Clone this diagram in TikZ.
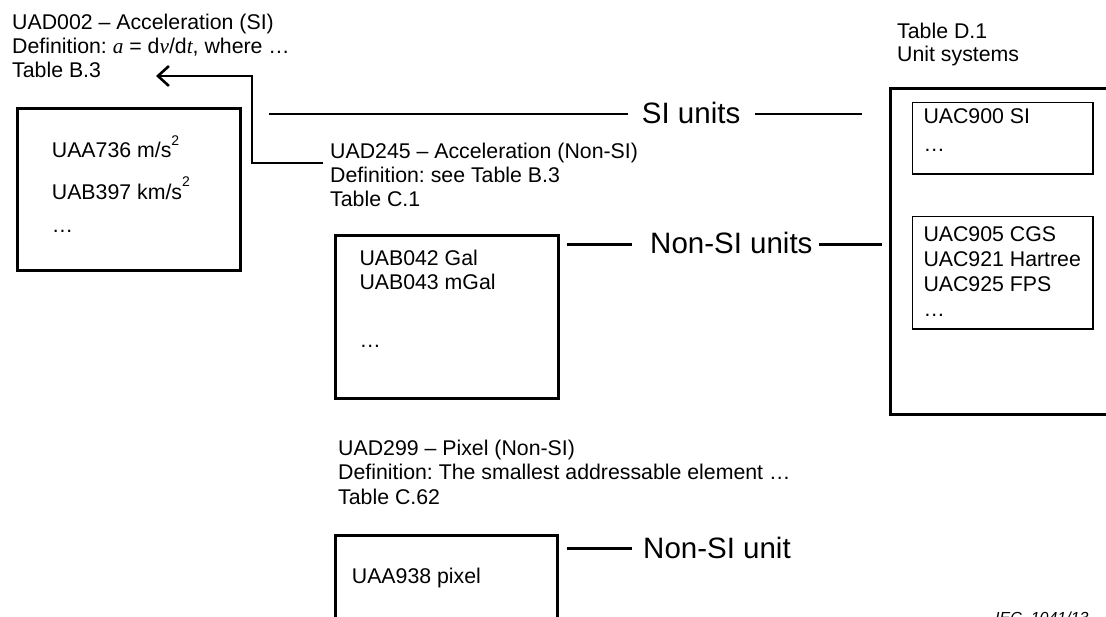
\documentclass[tikz,border=0pt]{standalone}
\usepackage{fontspec}
\setmainfont{Liberation Sans}
\newfontfamily\tnr{Liberation Serif}
\usetikzlibrary{arrows.meta,calc}
\frenchspacing
\newcommand{\sqr}{\raisebox{12.5pt}{\fontsize{14}{14}\selectfont 2}}
\newcommand{\itv}[1]{{\tnr\itshape #1}}
\begin{document}
\begin{tikzpicture}[x=1pt,y=-1pt,
  txt/.style={inner sep=0pt, anchor=base west, font=\fontsize{21.3}{24}\selectfont},
  big/.style={inner sep=0pt, anchor=base west, font=\fontsize{29.5}{32}\selectfont},
  box/.style={draw, line width=2.8pt, inner sep=0pt, anchor=north west},
  ibox/.style={draw, line width=1.4pt, inner sep=0pt, anchor=north west},
  conn/.style={line width=2.8pt},
  tip/.style={-{Straight Barb[length=11pt,width=20pt,line width=2.6pt]}}]
\useasboundingbox (0,0) rectangle (1106,617);
\clip (0,0) rectangle (1106,617);

% boxes
\node[box, minimum width=223pt, minimum height=162pt] (bxsi) at (16,107) {};
\node[box, minimum width=222.7pt, minimum height=163.3pt] (bxnsi) at (334,234) {};
\node[box, minimum width=222pt, minimum height=140pt] (bxpix) at (334,534) {};
\node[box, minimum width=270pt, minimum height=326pt] (bxsys) at (889,87) {};
\node[ibox, minimum width=180.6pt, minimum height=71.6pt] (bxsys1) at (911.7,101.7) {};
\node[ibox, minimum width=180.6pt, minimum height=112.6pt] (bxsys2) at (911.7,215.7) {};

% header texts
\node[txt] (u002) at (12,30) {\begin{tabular}[t]{@{}l@{}}UAD002 -- Acceleration (SI)\\
  Definition: \itv{a} = d\itv{v}/d\itv{t}, where …\\ Table B.3\end{tabular}};
\node[txt] (u245) at (330,159) {\begin{tabular}[t]{@{}l@{}}UAD245 -- Acceleration (Non-SI)\\
  Definition: see Table B.3\\ Table C.1\end{tabular}};
\node[txt] (u299) at (338,456) {\begin{tabular}[t]{@{}l@{}}UAD299 -- Pixel (Non-SI)\\
  Definition: The smallest addressable element …\\ Table C.62\end{tabular}};
\node[txt, font=\fontsize{21.3}{22.5}\selectfont] (td1) at (897,39) {\begin{tabular}[t]{@{}l@{}}Table D.1\\ Unit systems\end{tabular}};

% box contents
\node[txt] (csi) at (51.7,158) {\begin{tabular}[t]{@{}l@{}}UAA736 m/s\sqr\\[12pt] UAB397 km/s\sqr\\[9pt] …\end{tabular}};
\node[txt] (cnsi) at (359.3,266) {\begin{tabular}[t]{@{}l@{}}UAB042 Gal\\ UAB043 mGal\\[34pt] …\end{tabular}};
\node[txt] (cpix) at (351.7,583) {UAA938 pixel};
\node[txt] (csys1) at (923.3,124) {\begin{tabular}[t]{@{}l@{}}UAC900 SI\\[4pt] …\end{tabular}};
\node[txt, font=\fontsize{21.3}{25}\selectfont] (csys2) at (923.3,241.7) {\begin{tabular}[t]{@{}l@{}}UAC905 CGS\\ UAC921 Hartree\\ UAC925 FPS\\ …\end{tabular}};

% relation labels
\node[big] (lsi) at (641.7,124) {SI units};
\node[big] (lnsi) at (650,254) {Non-SI units};
\node[big] (lpix) at (643,558) {Non-SI unit};

% connectors
\coordinate (s1) at (269,114);
\coordinate (s2) at (862,114);
\draw[conn] (s1) -- ($(lsi.west|-s1)+(-14,0)$);
\draw[conn] ($(lsi.east|-s1)+(15,0)$) -- (s2);

\coordinate (n1) at (566.7,244.5);
\coordinate (n2) at (881.7,244.5);
\draw[conn] (n1) -- ($(lnsi.west|-n1)+(-18,0)$);
\draw[conn] ($(lnsi.east|-n1)+(6,0)$) -- (n2);

\coordinate (p1) at (566.7,548.3);
\draw[conn] (p1) -- ($(lpix.west|-p1)+(-11,0)$);

\coordinate (a1) at (323,163);
\coordinate (a2) at (156,76);
\draw[conn,tip] (a1) -- ++(-71,0) |- (a2);

% figure reference
\node[inner sep=0pt, anchor=base west, font=\fontsize{16}{18}\selectfont\itshape] (iec) at (995,623.5) {IEC\ \ 1041/13};
\end{tikzpicture}
\end{document}
